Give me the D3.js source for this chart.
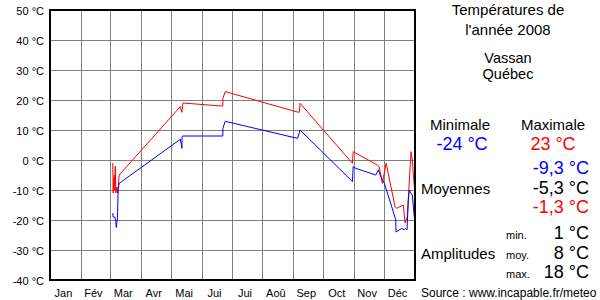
<!DOCTYPE html>
<html><head><meta charset="utf-8">
<script src="https://cdn.jsdelivr.net/npm/d3@7"></script>
<style>
html,body{margin:0;padding:0;background:#fff;}
svg{display:block;font-family:"Liberation Sans",Arial,sans-serif;}
</style></head>
<body>
<svg id="c" width="600" height="300"></svg>
<script>
// ---- data ----
const months = ["Jan","Fév","Mar","Avr","Mai","Jui","Jui","Aoû","Sep","Oct","Nov","Déc"];
const monthStarts = [0,31,60,91,121,152,182,213,244,274,305,335,366];
const yTicks = [50,40,30,20,10,0,-10,-20,-30,-40];
// day-of-year, temperature
const maxDays = [63,63.3,64,64.5,65,65.5,66,67,68,69.3,130.7,132.3,133.3,171.7,173.3,173.4,175.7,246.7,250,250.7,303.3,304,328.3,330,333.3,337,338,346,347.7,354.3,356,358.3,362,363.3,365.3];
const maxVals = [-1,-11,-6,-5,-10,-2,-11,-9,-11,-5,17.8,15.9,19,18,18,20.6,22.8,16.1,15.9,18.9,-1.1,2.8,-1.7,-2.2,-7.8,-1.1,-2.5,-15.6,-16.1,-15,-21,-18.9,2.8,0,-8.9];
const minDays = [63,63.3,65,66,66.5,67,67.7,68.3,69.3,130.7,132.3,132.4,133.3,173.3,173.4,175.7,248.3,250.7,303.3,304,306.7,326.7,329.3,331.7,335.3,342.7,346.7,347,352.7,355.3,356.7,358,359.3,360.3,362,363.3,365.3];
const minVals = [-17.7,-19,-19,-20.6,-22.5,-21,-19.3,-10,-7.8,6.9,3.9,7.8,8,8,10.6,12.9,7.2,10,-7.2,-2.2,-2.8,-5,-3.3,-5.6,-7.8,-15.6,-20,-24,-22.8,-23.3,-22.8,-23.3,-13.3,-10,-11.1,-11.7,-19];
const titleLines = ["Températures de","l'année 2008","Vassan","Québec"];
const stats = {min:"-24 °C", max:"23 °C", moyMin:"-9,3 °C", moy:"-5,3 °C", moyMax:"-1,3 °C", ampMin:"1 °C", ampMoy:"8 °C", ampMax:"18 °C"};

// ---- chart ----
const svg = d3.select("#c");
const L=50, R=415, T=10, B=280;
const x = d3.scaleLinear().domain([0,366]).range([L,R]);
const y = d3.scaleLinear().domain([-40,50]).range([B,T]);

// grid
const g = svg.append("g").attr("shape-rendering","crispEdges");
g.selectAll("line.h").data(yTicks).join("line")
  .attr("x1",L).attr("x2",R).attr("y1",d=>y(d)+0.5).attr("y2",d=>y(d)+0.5)
  .attr("stroke","#808080").attr("stroke-width",1);
g.selectAll("line.v").data(monthStarts.slice(1,12)).join("line")
  .attr("x1",d=>Math.round(x(d))+0.5).attr("x2",d=>Math.round(x(d))+0.5).attr("y1",T).attr("y2",B)
  .attr("stroke","#808080").attr("stroke-width",1);

// y axis labels
const yAxis = d3.axisLeft(y).tickValues(yTicks).tickSize(0).tickPadding(6).tickFormat(d=>d+" °C");
const ya = svg.append("g").attr("transform",`translate(${L},0)`).call(yAxis);
ya.select(".domain").remove();
ya.selectAll("text").attr("font-size",11).attr("font-family","Liberation Sans, Arial, sans-serif").attr("fill","#000").attr("dy","0.4em");

// month labels
svg.append("g").selectAll("text").data(months).join("text")
  .attr("x",(d,i)=>(x(monthStarts[i])+x(monthStarts[i+1]))/2-2)
  .attr("y",297).attr("text-anchor","middle").attr("font-size",11).text(d=>d);

// lines
const line = d3.line().x(d=>x(d[0])).y(d=>y(d[1]));
const maxPts = maxDays.map((d,i)=>[d,maxVals[i]]);
const minPts = minDays.map((d,i)=>[d,minVals[i]]);
svg.append("path").datum(maxPts).attr("d",line).attr("fill","none").attr("stroke","#ff0000").attr("stroke-width",1);
svg.append("path").datum(minPts).attr("d",line).attr("fill","none").attr("stroke","#0000ff").attr("stroke-width",1);

// frame
svg.append("rect").attr("x",L).attr("y",T).attr("width",R-L).attr("height",B-T)
  .attr("fill","none").attr("stroke","#000").attr("stroke-width",2).attr("shape-rendering","crispEdges");

// right panel
const tp = svg.append("g").attr("font-size",15).attr("fill","#000");
const tY=[15,35,63,79];
const tS=[15,15,14.5,14.5];
titleLines.forEach((t,i)=>tp.append("text").attr("x",508).attr("y",tY[i]).attr("font-size",tS[i]).attr("text-anchor","middle").text(t));
tp.append("text").attr("x",460).attr("y",130).attr("text-anchor","middle").text("Minimale");
tp.append("text").attr("x",553).attr("y",130).attr("text-anchor","middle").text("Maximale");
tp.append("text").attr("x",462).attr("y",150).attr("text-anchor","middle").attr("font-size",18).attr("fill","#0000ff").text(stats.min);
tp.append("text").attr("x",553).attr("y",150).attr("text-anchor","middle").attr("font-size",18).attr("fill","#ff0000").text(stats.max);
tp.append("text").attr("x",589).attr("y",174).attr("text-anchor","end").attr("font-size",18).attr("fill","#0000ff").text(stats.moyMin);
tp.append("text").attr("x",589).attr("y",194).attr("text-anchor","end").attr("font-size",18).attr("fill","#000").text(stats.moy);
tp.append("text").attr("x",589).attr("y",213).attr("text-anchor","end").attr("font-size",18).attr("fill","#ff0000").text(stats.moyMax);
tp.append("text").attr("x",421).attr("y",194).text("Moyennes");
tp.append("text").attr("x",421).attr("y",259).text("Amplitudes");
[["min.",stats.ampMin,239],["moy.",stats.ampMoy,259],["max.",stats.ampMax,278]].forEach(r=>{
  tp.append("text").attr("x",506).attr("y",r[2]).attr("font-size",11).text(r[0]);
  tp.append("text").attr("x",589).attr("y",r[2]).attr("text-anchor","end").attr("font-size",18).text(r[1]);
});
tp.append("text").attr("x",421).attr("y",297).attr("font-size",12).text("Source : www.incapable.fr/meteo");
</script>
</body></html>
